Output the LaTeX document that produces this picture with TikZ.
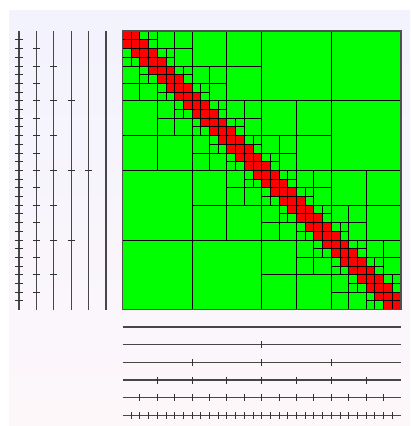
\documentclass[tikz,border=0pt]{standalone}
\usepackage{tikz}
\usetikzlibrary{calc}
\definecolor{hmAdm}{HTML}{00FF00}
\definecolor{hmDense}{HTML}{FF0000}
\definecolor{hmTree}{HTML}{474747}
\definecolor{hmFrame}{HTML}{505050}
\definecolor{hmBgTop}{HTML}{F3F3FD}
\definecolor{hmBgBot}{HTML}{FDF7FA}
\tikzset{
  admblk/.style={fill=hmAdm, draw=black, line width=0.9pt},
  denseblk/.style={fill=hmDense, draw=black, line width=0.9pt},
  matframe/.style={draw=hmFrame, line width=1.6pt},
  treeline/.style={draw=hmTree, line width=1.3pt},
  treetick/.style={draw=black!80, line width=1pt},
  bgpanel/.style={top color=hmBgTop, bottom color=hmBgBot, draw=none}
}

\begin{document}
\begin{tikzpicture}[x=1pt, y=-1pt]
  \useasboundingbox (0,0) rectangle (410,426);
  \shade[bgpanel] (9,10) rectangle (410,426);
  \def\mx{122.5} \def\my{31.2} \def\cs{8.7}
  % admissible leaves, one level after the other
  \foreach \n/\m in {8/3,4/7,2/15,1/31} {
    \foreach \a in {0,...,\m} {
      \foreach \b in {0,...,\m} {
        \pgfmathtruncatemacro\adm{(abs(\a-\b)>1) && (abs(int(\a/2)-int(\b/2))<2)}
        \ifnum\adm=1
          \path[admblk] ({\mx+\b*\n*\cs},{\my+\a*\n*\cs}) rectangle ++({\n*\cs},{\n*\cs});
        \fi
      }
    }
  }
  % dense leaves near the diagonal
  \foreach \a in {0,...,31} {
    \foreach \d in {-1,0,1} {
      \pgfmathtruncatemacro\b{\a+\d}
      \ifnum\b>-1 \ifnum\b<32
        \path[denseblk] ({\mx+\b*\cs},{\my+\a*\cs}) rectangle ++(\cs,\cs);
      \fi\fi
    }
  }
  \draw[matframe] (\mx,\my) rectangle ++({32*\cs},{32*\cs});
  % row cluster tree
  \foreach \k in {0,...,5} {
    \pgfmathsetmacro\tx{19+(5-\k)*17.4}
    \draw[treeline] (\tx,\my) -- (\tx,{\my+32*\cs});
    \pgfmathtruncatemacro\nk{2^\k-1}
    \ifnum\nk>0
      \foreach \j in {1,...,\nk}
        \draw[treetick] ({\tx-3.6},{\my+\j*32/(\nk+1)*\cs}) -- ++(7.2,0);
    \fi
  }
  % column cluster tree
  \foreach \k in {0,...,5} {
    \pgfmathsetmacro\ty{327+\k*17.7}
    \draw[treeline] (\mx,\ty) -- ({\mx+32*\cs},\ty);
    \pgfmathtruncatemacro\nk{2^\k-1}
    \ifnum\nk>0
      \foreach \j in {1,...,\nk}
        \draw[treetick] ({\mx+\j*32/(\nk+1)*\cs},{\ty-3.4}) -- ++(0,6.8);
    \fi
  }
\end{tikzpicture}
\end{document}
